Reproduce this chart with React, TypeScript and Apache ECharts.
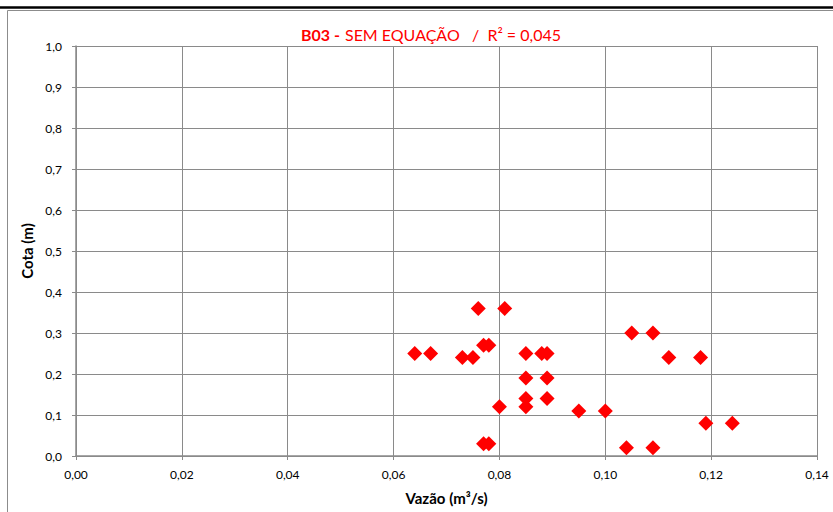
import React, { useEffect, useRef } from "react";
import * as echarts from "echarts";

// Vazão (m³/s) measured at the gauge
const vazao = [
  0.064, 0.067, 0.073, 0.075, 0.076, 0.081, 0.077, 0.078, 0.08, 0.077,
  0.078, 0.085, 0.088, 0.089, 0.085, 0.089, 0.085, 0.089, 0.085, 0.095,
  0.1, 0.104, 0.109, 0.105, 0.109, 0.112, 0.118, 0.119, 0.124,
];
// Cota (m) read for each flow
const cota = [
  0.25, 0.25, 0.24, 0.24, 0.36, 0.36, 0.27, 0.27, 0.12, 0.03,
  0.03, 0.25, 0.25, 0.25, 0.19, 0.19, 0.14, 0.14, 0.12, 0.11,
  0.11, 0.02, 0.02, 0.3, 0.3, 0.24, 0.24, 0.08, 0.08,
];

const FONT = "Lato, 'Open Sans', sans-serif";
const GRID_GRAY = "#8a8a8a";

export default function App() {
  const ref = useRef<HTMLDivElement>(null);

  useEffect(() => {
    if (!ref.current) return;
    const chart = echarts.init(ref.current, null, { renderer: "svg" });
    const points = vazao.map((v, i) => [v, cota[i]]);

    chart.setOption({
      animation: false,
      backgroundColor: "#ffffff",
      title: {
        text: "{b|B03 -} {r|SEM EQUAÇÃO   /  R² = 0,045}",
        left: 426,
        textAlign: "center",
        top: 20,
        textStyle: {
          fontWeight: "normal",
          rich: {
            b: { fontFamily: FONT, fontSize: 16, fontWeight: "bold", color: "#ff0000" },
            r: { fontFamily: FONT, fontSize: 16, fontWeight: "normal", color: "#ff0000" },
          },
        },
      },
      graphic: [
        { type: "line", shape: { x1: 0, y1: 7.5, x2: 833, y2: 7.5 }, style: { stroke: "#000", lineWidth: 2.5 } },
        { type: "line", shape: { x1: 7.5, y1: 10.5, x2: 833, y2: 10.5 }, style: { stroke: "#8c8c8c", lineWidth: 1 } },
        { type: "line", shape: { x1: 7.5, y1: 10.5, x2: 7.5, y2: 512 }, style: { stroke: "#8c8c8c", lineWidth: 1 } },
      ],
      grid: { left: 76, right: 16, top: 46, bottom: 56, containLabel: false, outerBoundsMode: "none" },
      xAxis: {
        type: "value",
        min: 0,
        max: 0.14,
        interval: 0.02,
        name: "Vazão (m³/s)",
        nameLocation: "middle",
        nameGap: 34,
        nameTextStyle: { fontFamily: FONT, fontSize: 15, fontWeight: "bold", color: "#000" },
        axisLine: { show: true, lineStyle: { color: GRID_GRAY, width: 1.5 } },
        axisTick: { show: true, length: 4, lineStyle: { color: GRID_GRAY } },
        axisLabel: {
          fontFamily: FONT,
          fontSize: 12,
          color: "#000",
          margin: 12,
          formatter: (v: number) => v.toFixed(2).replace(".", ","),
        },
        splitLine: { show: true, lineStyle: { color: GRID_GRAY, width: 1 } },
      },
      yAxis: {
        type: "value",
        min: 0,
        max: 1,
        interval: 0.1,
        name: "Cota (m)",
        nameLocation: "middle",
        nameGap: 42,
        nameRotate: 90,
        nameTextStyle: { fontFamily: FONT, fontSize: 15, fontWeight: "bold", color: "#000" },
        axisLine: { show: true, lineStyle: { color: GRID_GRAY, width: 1.5 } },
        axisTick: { show: true, length: 4, lineStyle: { color: GRID_GRAY } },
        axisLabel: {
          fontFamily: FONT,
          fontSize: 12,
          color: "#000",
          margin: 14,
          formatter: (v: number) => v.toFixed(1).replace(".", ","),
        },
        splitLine: { show: true, lineStyle: { color: GRID_GRAY, width: 1 } },
      },
      series: [
        {
          type: "scatter",
          data: points,
          symbol: "diamond",
          symbolSize: 15,
          itemStyle: { color: "#ff0000", opacity: 1 },
        },
      ],
    });

    return () => chart.dispose();
  }, []);

  return <div ref={ref} style={{ width: 833, height: 512, position: "absolute", left: 0, top: 0 }} />;
}
